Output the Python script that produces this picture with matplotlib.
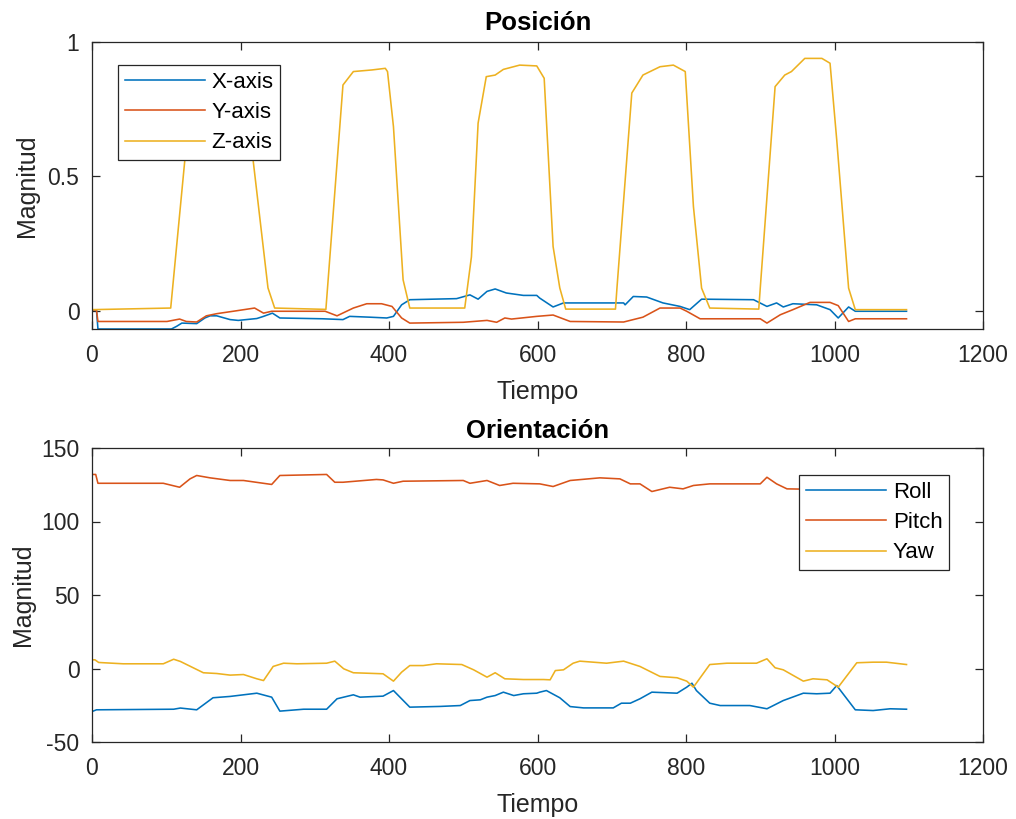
import matplotlib
matplotlib.use("Agg")
import matplotlib.pyplot as plt

# ---- Posición (position) ----
t_x = [0, 6, 8, 107, 114, 121, 141, 152, 159, 168, 186, 197, 222, 231, 243, 253, 311, 338, 347, 374,
       397, 406, 417, 428, 491, 509, 520, 532, 543, 558, 581, 599, 603, 621, 635, 716, 718, 729, 747,
       769, 792, 805, 821, 891, 909, 922, 931, 944, 976, 994, 1005, 1019, 1028, 1097]
pos_x = [0.003, 0.003, -0.068, -0.068, -0.058, -0.046, -0.048, -0.027, -0.019, -0.019, -0.033, -0.036,
         -0.029, -0.021, -0.009, -0.027, -0.030, -0.033, -0.021, -0.024, -0.027, -0.021, 0.022, 0.041,
         0.045, 0.059, 0.043, 0.072, 0.081, 0.066, 0.057, 0.057, 0.047, 0.014, 0.029, 0.029, 0.022,
         0.053, 0.051, 0.029, 0.016, 0.004, 0.043, 0.041, 0.016, 0.029, 0.014, 0.026, 0.022, 0.004,
         -0.027, 0.014, -0.002, -0.002]

t_y = [0, 6, 8, 101, 118, 127, 141, 154, 168, 195, 219, 231, 242, 314, 330, 352, 370, 390, 404, 417,
       428, 500, 532, 545, 556, 565, 599, 621, 644, 716, 742, 765, 792, 801, 819, 900, 909, 927, 944,
       967, 994, 1005, 1019, 1028, 1097]
pos_y = [0.003, 0.003, -0.040, -0.040, -0.031, -0.040, -0.042, -0.019, -0.011, 0.000, 0.010, -0.009,
         -0.002, -0.002, -0.019, 0.010, 0.026, 0.026, 0.016, -0.027, -0.046, -0.043, -0.036, -0.043,
         -0.027, -0.031, -0.021, -0.016, -0.040, -0.042, -0.024, 0.010, 0.010, -0.002, -0.030, -0.030,
         -0.046, -0.015, 0.004, 0.031, 0.031, 0.019, -0.040, -0.030, -0.030]

t_z = [0, 106, 125, 134, 145, 190, 203, 217, 237, 246, 315, 338, 352, 377, 395, 398, 406, 419, 428,
       502, 511, 520, 531, 543, 554, 576, 599, 609, 621, 630, 638, 705, 707, 727, 742, 765, 783, 799,
       810, 821, 832, 898, 900, 920, 933, 942, 960, 983, 994, 1003, 1019, 1028, 1097]
pos_z = [0.004, 0.010, 0.560, 0.840, 0.880, 0.890, 0.860, 0.560, 0.085, 0.010, 0.005, 0.840, 0.890,
         0.896, 0.902, 0.890, 0.685, 0.115, 0.010, 0.010, 0.200, 0.698, 0.871, 0.877, 0.898, 0.914,
         0.911, 0.865, 0.239, 0.085, 0.006, 0.006, 0.084, 0.810, 0.877, 0.908, 0.914, 0.890, 0.388,
         0.084, 0.010, 0.006, 0.084, 0.834, 0.877, 0.890, 0.939, 0.939, 0.921, 0.636, 0.084, 0.004,
         0.004]

# ---- Orientación (orientation) ----
t_roll = [0, 6, 110, 119, 141, 163, 186, 222, 242, 253, 285, 316, 330, 352, 361, 392, 406, 428, 469,
          496, 509, 523, 532, 543, 554, 568, 581, 599, 603, 612, 630, 644, 662, 702, 713, 725, 738,
          754, 788, 801, 808, 814, 832, 846, 886, 909, 931, 958, 976, 994, 1003, 1028, 1052, 1075, 1097]
roll = [-29.3, -28.1, -27.7, -26.9, -28.1, -19.9, -19.0, -16.8, -19.5, -29.0, -27.7, -27.7, -20.6,
        -17.9, -19.5, -18.8, -15.0, -26.3, -25.8, -25.2, -21.8, -21.3, -19.5, -18.4, -16.1, -18.4,
        -17.2, -16.8, -16.1, -15.0, -19.9, -25.9, -26.8, -26.8, -23.6, -23.6, -20.6, -16.1, -16.8,
        -12.7, -10.0, -15.0, -23.6, -25.2, -25.2, -27.4, -21.8, -16.8, -17.2, -16.8, -11.6, -28.1,
        -28.6, -27.4, -27.7]

t_pitch = [0, 5, 8, 96, 118, 132, 141, 159, 186, 204, 242, 253, 316, 327, 338, 383, 392, 406, 419,
           500, 509, 532, 549, 567, 603, 621, 644, 684, 711, 725, 738, 754, 778, 796, 810, 832, 900,
           909, 922, 936, 960, 1097]
pitch = [132.0, 132.0, 126.0, 126.0, 123.3, 129.0, 131.3, 129.7, 127.9, 127.9, 125.2, 131.3, 132.0,
         126.7, 126.7, 128.6, 128.3, 126.0, 127.4, 127.9, 126.0, 127.9, 124.5, 126.0, 125.6, 123.8,
         127.9, 129.7, 129.0, 125.6, 125.6, 120.4, 123.3, 122.2, 124.5, 125.6, 125.6, 130.1, 125.6,
         122.2, 122.0, 122.0]

t_yaw = [0, 4, 9, 42, 96, 110, 119, 150, 168, 186, 204, 222, 231, 244, 258, 276, 316, 327, 339, 352,
         370, 392, 406, 417, 428, 446, 464, 498, 514, 532, 543, 556, 581, 608, 617, 624, 635, 648, 657,
         693, 716, 738, 765, 788, 801, 810, 832, 855, 895, 909, 920, 931, 958, 971, 990, 1005, 1030,
         1052, 1070, 1097]
yaw = [5.9, 5.9, 4.1, 3.2, 3.2, 6.3, 4.8, -2.9, -3.4, -4.5, -4.1, -7.0, -8.2, 1.4, 3.6, 3.2, 3.6, 5.0,
       -0.2, -2.9, -3.2, -3.6, -8.6, -2.5, 2.0, 2.0, 3.2, 2.7, -0.9, -5.9, -2.9, -7.0, -7.5, -7.5, -7.7,
       -1.4, -0.9, 3.6, 5.0, 3.6, 5.0, 1.4, -5.4, -6.3, -8.6, -12.7, 2.7, 3.6, 3.6, 6.6, 0.5, -0.9,
       -8.6, -7.0, -7.7, -12.7, 3.9, 4.3, 4.3, 2.7]

x_ticks = [0, 200, 400, 600, 800, 1000, 1200]

BLUE, ORANGE, YELLOW = "#0072BD", "#D95319", "#EDB120"
AX_COLOR = "#262626"
FONT = "Liberation Sans"
LW = 1.15

plt.rcParams["font.family"] = [FONT, "DejaVu Sans"]
plt.rcParams["axes.unicode_minus"] = False

fig = plt.figure(figsize=(10.16, 8.19), dpi=100)
W, H = 1016, 819


def make_axes(left, top, right, bottom):
    return fig.add_axes([left / W, 1 - bottom / H, (right - left) / W, (bottom - top) / H])


def style(ax, title, ylabel_x, title_pad):
    for s in ax.spines.values():
        s.set_color(AX_COLOR)
        s.set_linewidth(0.9)
    ax.tick_params(direction="in", length=6, width=0.9, top=True, right=True,
                   colors=AX_COLOR, labelsize=16.5)
    ax.tick_params(axis="x", pad=11)
    ax.tick_params(axis="y", pad=9)
    ax.set_xlim(0, 1200)
    ax.set_xticks(x_ticks)
    ax.set_xlabel("Tiempo", fontsize=18, color=AX_COLOR, labelpad=9)
    ax.set_ylabel("Magnitud", fontsize=18, color=AX_COLOR)
    ax.yaxis.set_label_coords(ylabel_x, 0.5)
    ax.set_title(title, fontsize=18.5, fontweight="bold", color="black", pad=title_pad)


def add_legend(ax, loc, anchor):
    leg = ax.legend(loc=loc, bbox_to_anchor=anchor, fontsize=16,
                    handlelength=3.6, handletextpad=0.3, labelspacing=0.42,
                    borderpad=0.3, borderaxespad=0, fancybox=False, framealpha=1,
                    edgecolor=AX_COLOR)
    leg.get_frame().set_linewidth(0.9)
    return leg


ax1 = make_axes(92, 42, 983, 329)
ax1.plot(t_x, pos_x, color=BLUE, lw=LW, label="X-axis")
ax1.plot(t_y, pos_y, color=ORANGE, lw=LW, label="Y-axis")
ax1.plot(t_z, pos_z, color=YELLOW, lw=LW, label="Z-axis")
ax1.set_ylim(-0.068, 1)
ax1.set_yticks([0, 0.5, 1])
ax1.set_yticklabels(["0", "0.5", "1"])
style(ax1, "Posición", -0.060, 9)
add_legend(ax1, "upper left", (0.029, 0.92))

ax2 = make_axes(92, 448, 983, 742)
ax2.plot(t_roll, roll, color=BLUE, lw=LW, label="Roll")
ax2.plot(t_pitch, pitch, color=ORANGE, lw=LW, label="Pitch")
ax2.plot(t_yaw, yaw, color=YELLOW, lw=LW, label="Yaw")
ax2.set_ylim(-50, 150)
ax2.set_yticks([-50, 0, 50, 100, 150])
style(ax2, "Orientación", -0.064, 7)
add_legend(ax2, "upper right", (0.962, 0.908))

fig.savefig("out.png", dpi=100, facecolor="white")
